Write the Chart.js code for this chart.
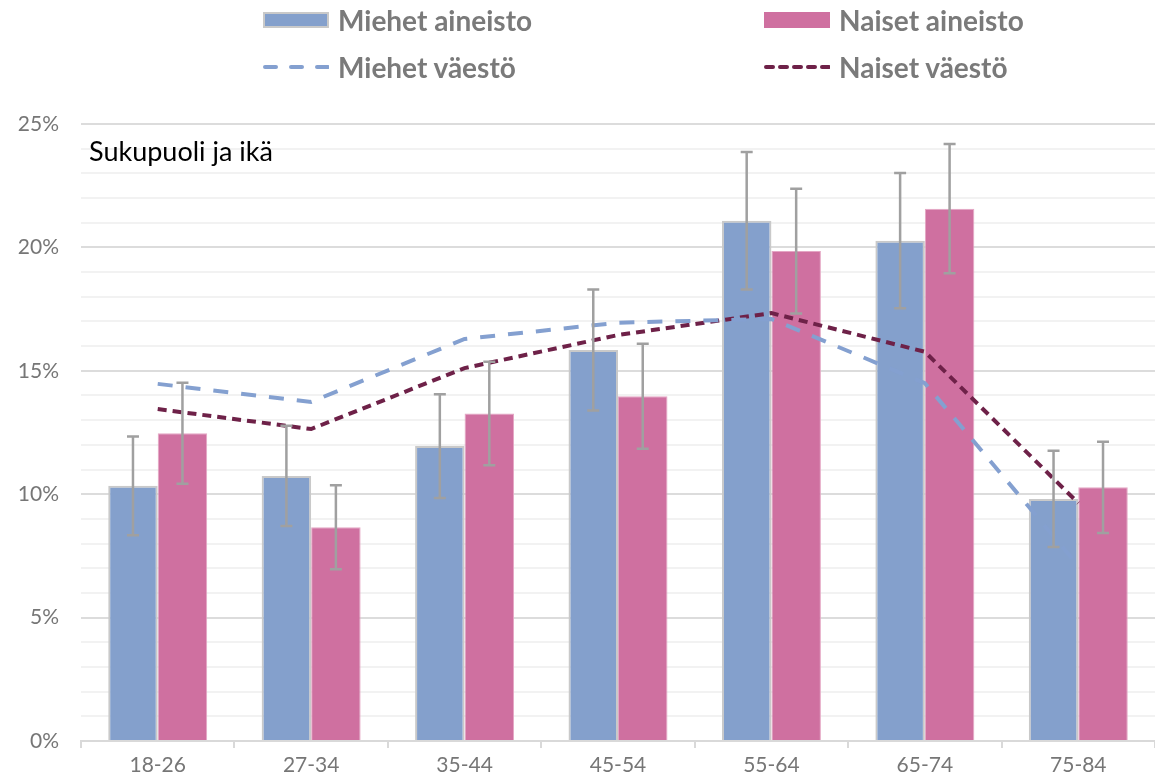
<!DOCTYPE html>
<html>
<head>
<meta charset="utf-8">
<script src="https://cdn.jsdelivr.net/npm/chart.js@4.4.1/dist/chart.umd.min.js"></script>
<style>
  html, body { margin: 0; padding: 0; background: #fff; }
  #wrap { position: relative; width: 1155px; height: 782px; font-family: Lato, "Open Sans", sans-serif; }
  canvas { position: absolute; left: 0; top: 0; }
  .leg { position: absolute; display: flex; align-items: center; font-weight: bold; font-size: 28px; color: #7a7a7a; white-space: nowrap; }
  .leg svg { margin-right: 9px; display: block; }
  .note { position: absolute; left: 89px; top: 136px; font-size: 27px; color: #000; white-space: nowrap; line-height: 30px; }
</style>
</head>
<body>
<div id="wrap">
  <canvas id="c" width="1155" height="782"></canvas>
  <div class="leg" style="left:263px; top:4px; height:32px;">
    <svg width="66" height="16"><rect x="1" y="1" width="64" height="14" fill="#84a0cc" stroke="#c9c9c9" stroke-width="2"/></svg>Miehet aineisto
  </div>
  <div class="leg" style="left:764px; top:4px; height:32px;">
    <svg width="66" height="16"><rect x="0" y="0" width="66" height="16" fill="#cf70a0"/></svg>Naiset aineisto
  </div>
  <div class="leg" style="left:263px; top:51px; height:32px;">
    <svg width="66" height="8"><line x1="2" y1="4" x2="66" y2="4" stroke="#84a0d0" stroke-width="4" stroke-linecap="round" stroke-dasharray="11 15"/></svg>Miehet väestö
  </div>
  <div class="leg" style="left:764px; top:51px; height:32px;">
    <svg width="66" height="8"><line x1="2" y1="4" x2="66" y2="4" stroke="#6e2148" stroke-width="4" stroke-linecap="round" stroke-dasharray="7 7"/></svg>Naiset väestö
  </div>
  <div class="note">Sukupuoli ja ikä</div>
</div>
<script>
const categories = ['18-26', '27-34', '35-44', '45-54', '55-64', '65-74', '75-84'];
const miehetAineisto = [10.34, 10.74, 11.95, 15.84, 21.08, 20.27, 9.81];
const naisetAineisto = [12.47, 8.66, 13.27, 13.97, 19.85, 21.57, 10.28];
const miehetVirhe = [2.0, 2.03, 2.1, 2.45, 2.79, 2.74, 1.95];
const naisetVirhe = [2.05, 1.7, 2.1, 2.13, 2.53, 2.62, 1.85];
const miehetVaesto = [14.47, 13.74, 16.29, 16.95, 17.1, 14.5, 7.1];
const naisetVaesto = [13.45, 12.64, 15.11, 16.45, 17.34, 15.77, 9.64];
const yTickLabels = ['0%', '5%', '10%', '15%', '20%', '25%'];

const errorBars = {
  id: 'errorBars',
  afterDatasetsDraw(chart) {
    const ctx = chart.ctx;
    const y = chart.scales.y;
    const sets = [[2, miehetAineisto, miehetVirhe], [3, naisetAineisto, naisetVirhe]];
    ctx.save();
    ctx.strokeStyle = '#a0a0a0';
    ctx.lineWidth = 2.5;
    sets.forEach(([idx, vals, errs]) => {
      const meta = chart.getDatasetMeta(idx);
      meta.data.forEach((bar, j) => {
        const x = bar.x;
        const t = y.getPixelForValue(vals[j] + errs[j]);
        const b = y.getPixelForValue(vals[j] - errs[j]);
        ctx.beginPath();
        ctx.moveTo(x, t); ctx.lineTo(x, b);
        ctx.moveTo(x - 6, t); ctx.lineTo(x + 6, t);
        ctx.moveTo(x - 6, b); ctx.lineTo(x + 6, b);
        ctx.stroke();
      });
    });
    ctx.restore();
  }
};

new Chart(document.getElementById('c'), {
  type: 'bar',
  data: {
    labels: categories,
    datasets: [
      { type: 'line', label: 'Miehet väestö', data: miehetVaesto, borderColor: '#84a0d0', borderWidth: 4,
        borderDash: [15, 13], pointRadius: 0, fill: false, tension: 0, order: 0 },
      { type: 'line', label: 'Naiset väestö', data: naisetVaesto, borderColor: '#6e2148', borderWidth: 4,
        borderDash: [9, 6], pointRadius: 0, fill: false, tension: 0, order: 0 },
      { label: 'Miehet aineisto', data: miehetAineisto, backgroundColor: '#84a0cc', borderColor: '#c9c9c9',
        borderWidth: 2, order: 1, categoryPercentage: 0.645, barPercentage: 1.0 },
      { label: 'Naiset aineisto', data: naisetAineisto, backgroundColor: '#cf70a0', borderColor: '#e4a6c4',
        borderWidth: 1, order: 1, categoryPercentage: 0.645, barPercentage: 1.0 }
    ]
  },
  options: {
    responsive: false,
    animation: false,
    layout: { padding: { top: 124, left: 0, right: 0, bottom: 0 } },
    plugins: { legend: { display: false }, tooltip: { enabled: false }, title: { display: false } },
    scales: {
      x: {
        offset: true,
        grid: { display: true, drawOnChartArea: false, drawTicks: true, tickLength: 7, offset: true, color: '#d9d9d9', lineWidth: 2 },
        border: { display: true, color: '#d9d9d9', width: 2 },
        ticks: { color: '#767676', font: { family: 'Lato', size: 21 }, padding: 5, maxRotation: 0 },
        afterFit(scale) { scale.height = 41; }
      },
      y: {
        min: 0, max: 25,
        ticks: {
          stepSize: 1, autoSkip: false, color: '#767676', font: { family: 'Lato', size: 21 }, padding: 22,
          callback: (v) => (v % 5 === 0 ? yTickLabels[v / 5] : '')
        },
        grid: { drawTicks: false, color: (c) => (c.tick && c.tick.value % 5 === 0 ? '#dcdcdc' : '#f2f2f2'), lineWidth: 2 },
        border: { display: false },
        afterFit(scale) { scale.width = 81; }
      }
    }
  },
  plugins: [errorBars]
});
</script>
</body>
</html>
